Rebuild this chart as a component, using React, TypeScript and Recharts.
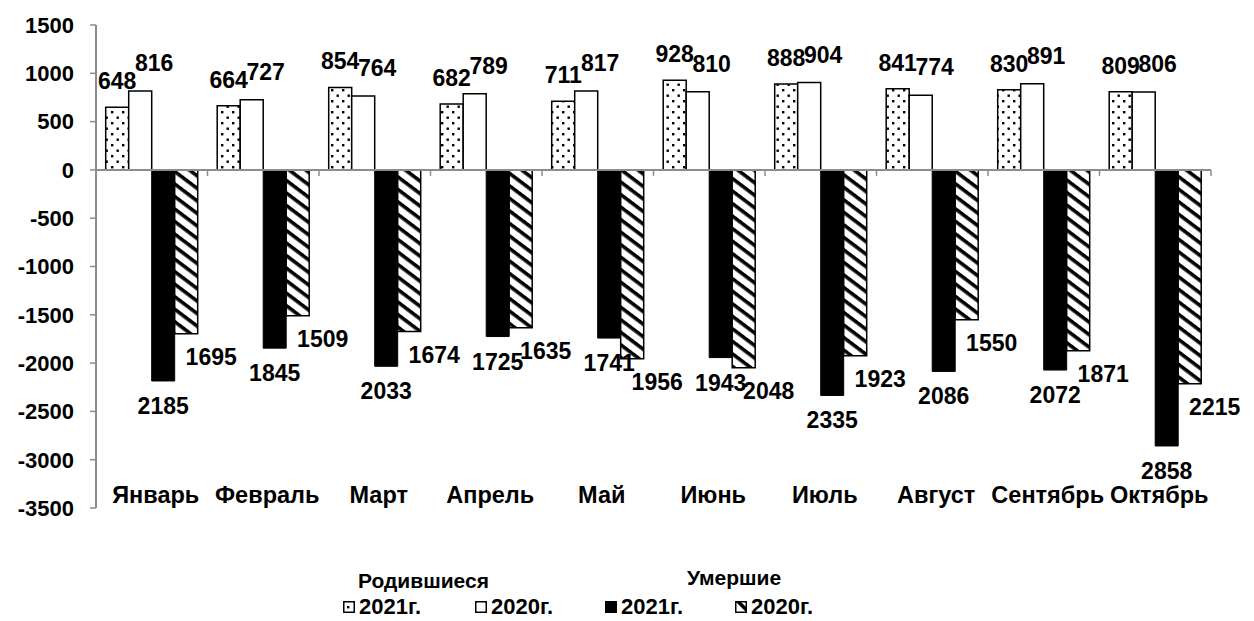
import React from 'react';
import { BarChart, Bar, XAxis, YAxis, ReferenceLine, LabelList, Legend } from 'recharts';

const months = ['Январь', 'Февраль', 'Март', 'Апрель', 'Май', 'Июнь', 'Июль', 'Август', 'Сентябрь', 'Октябрь'];
const born2021 = [648, 664, 854, 682, 711, 928, 888, 841, 830, 809];
const born2020 = [816, 727, 764, 789, 817, 810, 904, 774, 891, 806];
const died2021 = [2185, 1845, 2033, 1725, 1741, 1943, 2335, 2086, 2072, 2858];
const died2020 = [1695, 1509, 1674, 1635, 1956, 2048, 1923, 1550, 1871, 2215];
const yTicks = [1500, 1000, 500, 0, -500, -1000, -1500, -2000, -2500, -3000, -3500];
const legendHeaders = ['Родившиеся', 'Умершие'];
const legendLabels = ['2021г.', '2020г.', '2021г.', '2020г.'];

const data = months.map((m, i) => ({
  month: m,
  b21: born2021[i],
  b20: born2020[i],
  d21: -died2021[i],
  d20: -died2020[i],
}));

const FONT = '"Liberation Sans", Arial, Helvetica, sans-serif';
const AXIS = '#8c8c8c';
const W = 1254;
const H = 621;
const MARGIN = { top: 25, right: 43, left: 0, bottom: 0 };
const Y_W = 96;
const LEGEND_H = 52;

const box = (p: any) => {
  const vb = p.viewBox || p;
  const x = Number(vb.x), y = Number(vb.y), w = Number(vb.width), h = Number(vb.height);
  return { x, w, top: Math.min(y, y + h), bottom: Math.max(y, y + h) };
};

const txt = (x: number, y: number, s: any) => (
  <text x={x} y={y} textAnchor="middle" fontFamily={FONT} fontWeight="bold" fontSize={23} fill="#000">
    {s}
  </text>
);

const labelB21 = (p: any) => { const b = box(p); return txt(b.x + b.w / 2, b.top - 18, Math.abs(p.value)); };
const labelB20 = (p: any) => { const b = box(p); return txt(b.x + b.w / 2 + 14, b.top - 20, Math.abs(p.value)); };
const labelD21 = (p: any) => { const b = box(p); return txt(b.x + b.w / 2, b.bottom + 33, Math.abs(p.value)); };
const labelD20 = (p: any) => { const b = box(p); return txt(b.x + b.w / 2 + 25, b.bottom + 31, Math.abs(p.value)); };

const ZeroLine = (p: any) => {
  const { x1, x2, y1 } = p;
  const n = months.length;
  const step = (x2 - x1) / n;
  const ticks = [];
  for (let i = 1; i <= n; i++) {
    const x = x1 + i * step;
    ticks.push(<line key={i} x1={x} x2={x} y1={y1} y2={y1 + 6} stroke={AXIS} strokeWidth={1.5} />);
  }
  return (
    <g>
      <line x1={x1} x2={x2} y1={y1} y2={y1} stroke={AXIS} strokeWidth={2} />
      {ticks}
    </g>
  );
};

const CatTick = (p: any) => {
  const { x, y, payload } = p;
  return (
    <text x={x + 4} y={y - 13} textAnchor="middle" fontFamily={FONT} fontWeight="bold" fontSize={23.5} fill="#000">
      {payload.value}
    </text>
  );
};

const Icon = ({ fill }: { fill: string }) => (
  <svg width={12} height={12} style={{ position: 'absolute', top: 7 }}>
    <rect x={0.75} y={0.75} width={10.5} height={10.5} fill={fill} stroke="#000" strokeWidth={1.5} />
  </svg>
);

const legendFills = ['url(#dotsIcon)', '#fff', '#000', 'url(#hatchIcon)'];
const legendItemX = [343, 475, 605, 735];
const legendHeaderX = [358, 687];

const LegendContent = () => (
  <div style={{ position: 'relative', width: W, height: LEGEND_H, fontFamily: FONT, fontWeight: 'bold', color: '#000' }}>
    {legendHeaders.map((h, i) => (
      <div key={h} style={{ position: 'absolute', left: legendHeaderX[i], top: i === 0 ? 0 : -3, fontSize: 21, lineHeight: '24px', whiteSpace: 'nowrap' }}>{h}</div>
    ))}
    {legendLabels.map((l, i) => (
      <div key={i} style={{ position: 'absolute', left: legendItemX[i], top: 25, height: 26, whiteSpace: 'nowrap' }}>
        <Icon fill={legendFills[i]} />
        <span style={{ position: 'absolute', left: 16, top: 0, fontSize: 22, lineHeight: '26px' }}>{l}</span>
      </div>
    ))}
  </div>
);

export default function App() {
  return (
    <div style={{ position: 'absolute', left: 0, top: 0, width: W, height: H, background: '#fff' }}>
      <svg width={0} height={0} style={{ position: 'absolute' }}>
        <defs>
          <pattern id="dots" width={11} height={11} patternUnits="userSpaceOnUse">
            <rect width={11} height={11} fill="#fff" />
            <rect x={1} y={1} width={2.4} height={2.4} fill="#000" />
            <rect x={6.5} y={6.5} width={2.4} height={2.4} fill="#000" />
          </pattern>
          <pattern id="dotsIcon" width={11} height={11} patternUnits="userSpaceOnUse">
            <rect width={11} height={11} fill="#fff" />
            <rect x={4} y={5} width={2.4} height={2.4} fill="#000" />
          </pattern>
          <pattern id="hatch" width={10} height={10} patternUnits="userSpaceOnUse" patternTransform="rotate(37)">
            <rect width={10} height={10} fill="#fff" />
            <rect x={0} y={0} width={10} height={3.6} fill="#000" />
          </pattern>
          <pattern id="hatchIcon" width={11} height={11} patternUnits="userSpaceOnUse">
            <rect width={11} height={11} fill="#fff" />
            <polygon points="0,0 5,0 11,6 11,11" fill="#000" />
          </pattern>
        </defs>
      </svg>
      <BarChart width={W} height={H} data={data} margin={MARGIN} barCategoryGap="8.7%" barGap={0}>
        <XAxis dataKey="month" axisLine={false} tickLine={false} height={H - MARGIN.top - 483 - LEGEND_H} tick={<CatTick />} interval={0} />
        <YAxis
          type="number"
          domain={[-3500, 1500]}
          ticks={yTicks}
          interval={0}
          width={Y_W}
          axisLine={{ stroke: AXIS, strokeWidth: 2 }}
          tickLine={{ stroke: AXIS, strokeWidth: 1.5 }}
          tickSize={6}
          tickMargin={16}
          tick={{ fontFamily: FONT, fontWeight: 'bold', fontSize: 22, fill: '#000' }}
        />
        <Bar dataKey="b21" fill="url(#dots)" stroke="#000" strokeWidth={1.5} isAnimationActive={false}>
          <LabelList dataKey="b21" content={labelB21} />
        </Bar>
        <Bar dataKey="b20" fill="#fff" stroke="#000" strokeWidth={1.5} isAnimationActive={false}>
          <LabelList dataKey="b20" content={labelB20} />
        </Bar>
        <Bar dataKey="d21" fill="#000" stroke="#000" strokeWidth={1} isAnimationActive={false}>
          <LabelList dataKey="d21" content={labelD21} />
        </Bar>
        <Bar dataKey="d20" fill="url(#hatch)" stroke="#000" strokeWidth={1.5} isAnimationActive={false}>
          <LabelList dataKey="d20" content={labelD20} />
        </Bar>
        <ReferenceLine y={0} shape={<ZeroLine />} />
        <Legend verticalAlign="bottom" align="left" content={<LegendContent />} wrapperStyle={{ height: LEGEND_H }} />
      </BarChart>
    </div>
  );
}
